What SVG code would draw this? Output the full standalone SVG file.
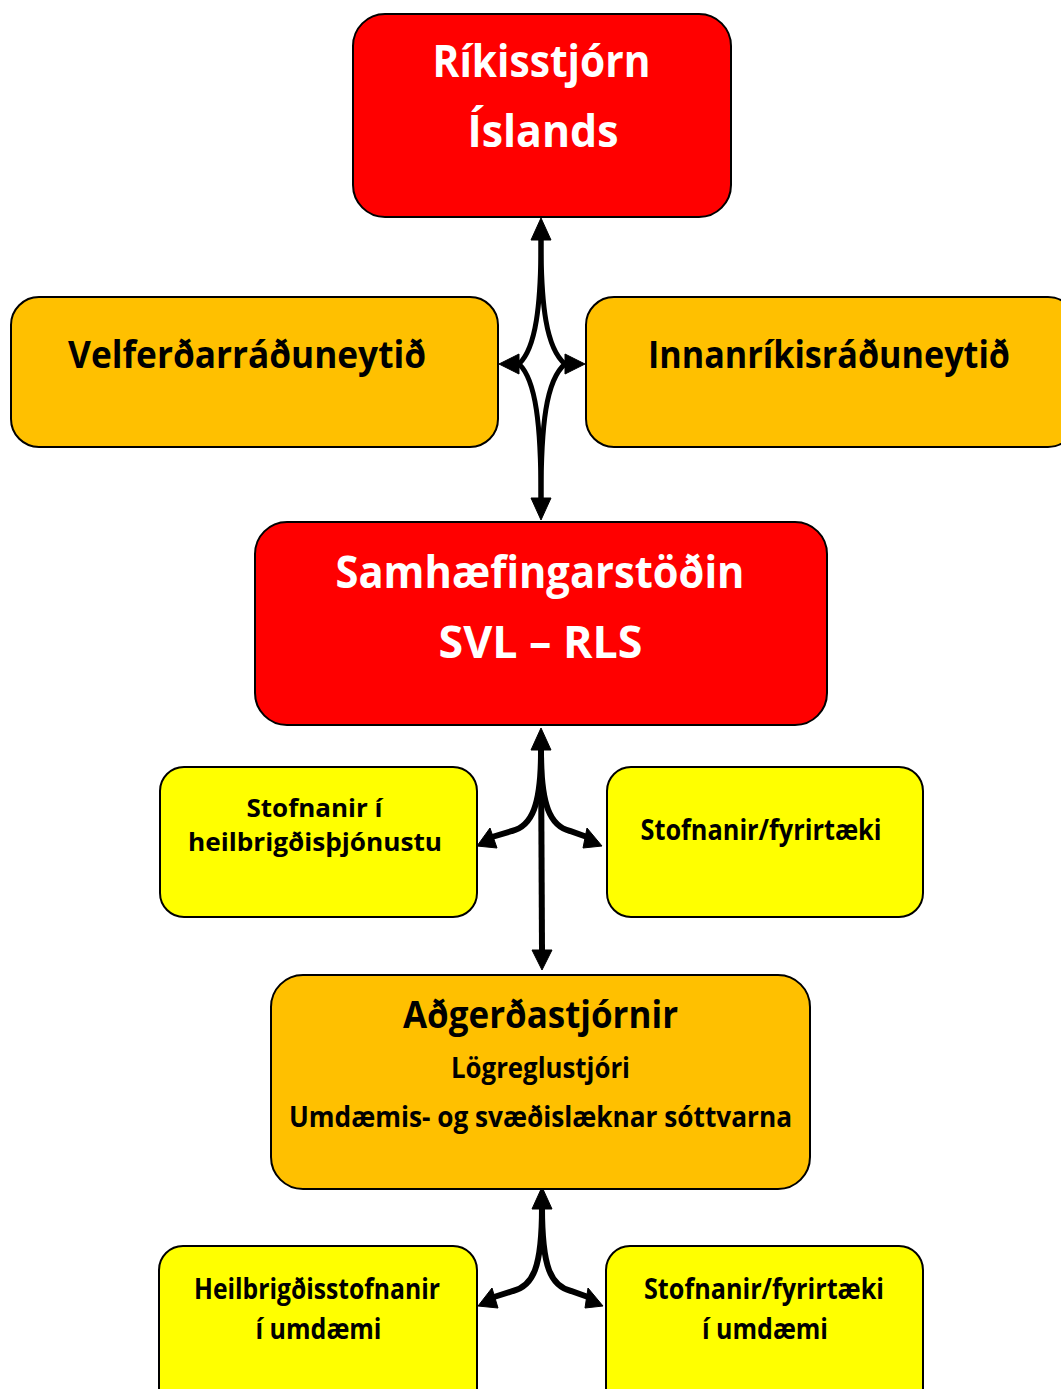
<svg xmlns="http://www.w3.org/2000/svg" width="1061" height="1389" viewBox="0 0 1061 1389">
<style>
.box{stroke:#000;stroke-width:2}
.red{fill:#FF0000}
.org{fill:#FFC000}
.yel{fill:#FFFF00}
text{font-family:"Open Sans","Noto Sans","Liberation Sans",sans-serif;font-weight:700;text-anchor:middle}
.w{fill:#fff}
.k{fill:#000}
.big{font-size:45px}
.med{font-size:37px}
.sm{font-size:28px}
.xs{font-size:25px}
.ln{fill:none;stroke:#000;stroke-linecap:butt}
.ah{fill:#000;stroke:#000;stroke-width:1;stroke-linejoin:miter}
</style>
<rect width="1061" height="1389" fill="#fff"/>
<g id="connectors">
  <path class="ln" stroke-width="5" d="M541,240 C541,305 536,348 519,364"/>
  <path class="ln" stroke-width="5" d="M541,240 C541,305 546,348 565,364"/>
  <path class="ln" stroke-width="5" d="M541,498 C541,425 536,380 519,364"/>
  <path class="ln" stroke-width="5" d="M541,498 C541,425 546,380 565,364"/>
  <polygon class="ah" points="541,218 531,240 551,240"/>
  <polygon class="ah" points="541,520 531,498 551,498"/>
  <polygon class="ah" points="499,364 519,354 519,374"/>
  <polygon class="ah" points="585,364 565,354 565,374"/>
  <path class="ln" stroke-width="6" d="M541,750 L542,950"/>
  <path class="ln" stroke-width="6" d="M541,752 C541,805 532,826 512,831 L492,837"/>
  <path class="ln" stroke-width="6" d="M541,752 C541,805 550,826 570,831 L587,837"/>
  <polygon class="ah" points="541,728 531,750 551,750"/>
  <polygon class="ah" points="542,970 532,950 552,950"/>
  <polygon class="ah" points="477,846 490,828 497,848"/>
  <polygon class="ah" points="602,846 587,828 583,848"/>
  <path class="ln" stroke-width="6" d="M542,1207 C542,1268 533,1286 513,1291 L494,1297"/>
  <path class="ln" stroke-width="6" d="M542,1207 C542,1268 551,1286 571,1291 L588,1297"/>
  <polygon class="ah" points="542,1187 532,1209 552,1209"/>
  <polygon class="ah" points="478,1306 492,1288 498,1308"/>
  <polygon class="ah" points="603,1306 588,1288 585,1308"/>
</g>
<g id="rikisstjorn">
  <rect class="box red" x="353" y="14" width="378" height="203" rx="32"/>
  <text class="w big" x="541.5" y="77" textLength="218" lengthAdjust="spacingAndGlyphs">Ríkisstjórn</text>
  <text class="w big" x="543" y="147" textLength="151" lengthAdjust="spacingAndGlyphs">Íslands</text>
</g>
<g id="velferdar">
  <rect class="box org" x="11" y="297" width="487" height="150" rx="28"/>
  <text class="k med" x="247" y="368" textLength="358" lengthAdjust="spacingAndGlyphs">Velferðarráðuneytið</text>
</g>
<g id="innanrikis">
  <rect class="box org" x="586" y="297" width="490" height="150" rx="28"/>
  <text class="k med" x="829" y="368" textLength="362" lengthAdjust="spacingAndGlyphs">Innanríkisráðuneytið</text>
</g>
<g id="samhaefing">
  <rect class="box red" x="255" y="522" width="572" height="203" rx="32"/>
  <text class="w big" x="540" y="588" textLength="409" lengthAdjust="spacingAndGlyphs">Samhæfingarstöðin</text>
  <text class="w big" x="540.5" y="658" textLength="204" lengthAdjust="spacingAndGlyphs">SVL – RLS</text>
</g>
<g id="stofnanir-heilbr">
  <rect class="box yel" x="160" y="767" width="317" height="150" rx="24"/>
  <text class="k xs" x="314.5" y="817" textLength="136" lengthAdjust="spacingAndGlyphs">Stofnanir í</text>
  <text class="k xs" x="315" y="851" textLength="254" lengthAdjust="spacingAndGlyphs">heilbrigðisþjónustu</text>
</g>
<g id="stofnanir-fyrirtaeki">
  <rect class="box yel" x="607" y="767" width="316" height="150" rx="24"/>
  <text class="k sm" x="761" y="840" textLength="241" lengthAdjust="spacingAndGlyphs">Stofnanir/fyrirtæki</text>
</g>
<g id="adgerdastjornir">
  <rect class="box org" x="271" y="975" width="539" height="214" rx="32"/>
  <text class="k med" x="540.5" y="1028" textLength="275" lengthAdjust="spacingAndGlyphs">Aðgerðastjórnir</text>
  <text class="k sm" x="540.5" y="1078" textLength="179" lengthAdjust="spacingAndGlyphs">Lögreglustjóri</text>
  <text class="k sm" x="540.5" y="1127" textLength="503" lengthAdjust="spacingAndGlyphs">Umdæmis- og svæðislæknar sóttvarna</text>
</g>
<g id="heilbrigdisstofnanir">
  <rect class="box yel" x="159" y="1246" width="318" height="170" rx="24"/>
  <text class="k sm" x="317" y="1299" textLength="246" lengthAdjust="spacingAndGlyphs">Heilbrigðisstofnanir</text>
  <text class="k sm" x="318.5" y="1339" textLength="126" lengthAdjust="spacingAndGlyphs">í umdæmi</text>
</g>
<g id="stofnanir-umdaemi">
  <rect class="box yel" x="606" y="1246" width="317" height="170" rx="24"/>
  <text class="k sm" x="764" y="1299" textLength="240" lengthAdjust="spacingAndGlyphs">Stofnanir/fyrirtæki</text>
  <text class="k sm" x="765" y="1339" textLength="126" lengthAdjust="spacingAndGlyphs">í umdæmi</text>
</g>
</svg>
